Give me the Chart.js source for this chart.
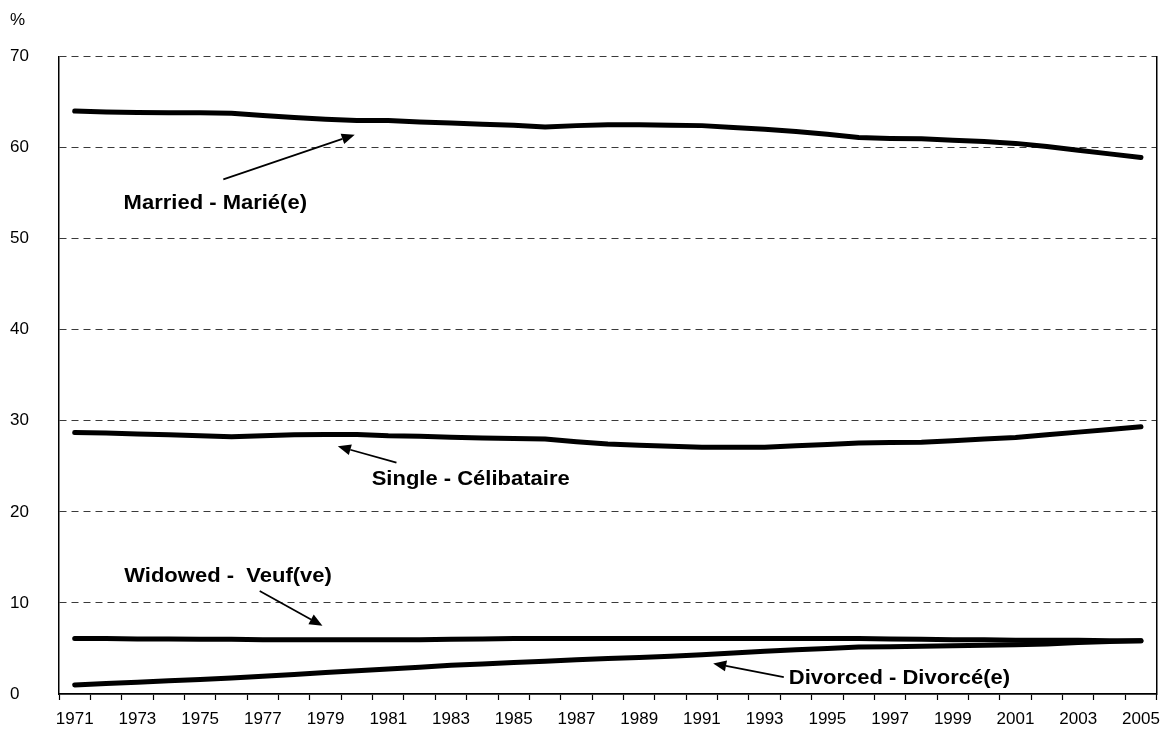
<!DOCTYPE html>
<html>
<head>
<meta charset="utf-8">
<script src="https://cdn.jsdelivr.net/npm/chart.js@4"></script>
<style>
  body { margin: 0; background: #fff; }
  canvas { display: block; }
</style>
</head>
<body>
<canvas id="chart" width="1169" height="729"></canvas>
<script>
const years = ['1971','1972','1973','1974','1975','1976','1977','1978','1979','1980',
  '1981','1982','1983','1984','1985','1986','1987','1988','1989','1990',
  '1991','1992','1993','1994','1995','1996','1997','1998','1999','2000',
  '2001','2002','2003','2004','2005'];

const married = [64.0, 63.9, 63.85, 63.8, 63.8, 63.75, 63.5, 63.3, 63.1, 62.95,
  62.95, 62.8, 62.7, 62.55, 62.45, 62.25, 62.4, 62.5, 62.5, 62.45,
  62.4, 62.2, 62.0, 61.75, 61.45, 61.1, 61.0, 60.95, 60.8, 60.65,
  60.45, 60.1, 59.7, 59.3, 58.9];

const single = [28.7, 28.65, 28.55, 28.45, 28.35, 28.25, 28.35, 28.45, 28.5, 28.5,
  28.35, 28.3, 28.2, 28.1, 28.05, 28.0, 27.7, 27.45, 27.3, 27.2,
  27.1, 27.1, 27.1, 27.25, 27.4, 27.55, 27.6, 27.65, 27.8, 28.0,
  28.15, 28.45, 28.75, 29.05, 29.35];

const widowed = [6.1, 6.1, 6.05, 6.05, 6.0, 6.0, 5.95, 5.95, 5.95, 5.95,
  5.95, 5.95, 6.0, 6.05, 6.1, 6.1, 6.1, 6.1, 6.1, 6.1,
  6.1, 6.1, 6.1, 6.1, 6.1, 6.1, 6.05, 6.0, 5.95, 5.95,
  5.9, 5.9, 5.9, 5.85, 5.85];

const divorced = [1.0, 1.15, 1.3, 1.45, 1.6, 1.75, 1.95, 2.15, 2.35, 2.55,
  2.75, 2.95, 3.15, 3.3, 3.45, 3.6, 3.75, 3.9, 4.0, 4.15,
  4.3, 4.5, 4.7, 4.85, 5.0, 5.15, 5.2, 5.25, 5.3, 5.35,
  5.4, 5.5, 5.65, 5.75, 5.85];

const seriesNames = ['Married - Marié(e)', 'Single - Célibataire', 'Widowed -  Veuf(ve)', 'Divorced - Divorcé(e)'];
const yTicks = [0, 10, 20, 30, 40, 50, 60, 70];

// label + arrow placement, in data units (category index, %)
const callouts = [
  { text: seriesNames[0], tx: 1.56, ty: 53.8, from: [4.74, 56.5], to: [8.93, 61.4] },
  { text: seriesNames[1], tx: 9.47, ty: 23.6, from: [10.26, 25.4], to: [8.39, 27.2] },
  { text: seriesNames[2], tx: 1.58, ty: 12.9, from: [5.9, 11.3], to: [7.9, 7.5] },
  { text: seriesNames[3], tx: 22.77, ty: 1.75, from: [22.61, 1.85], to: [20.36, 3.35] },
];

const calloutPlugin = {
  id: 'callouts',
  afterDatasetsDraw(chart) {
    const { ctx, scales: { x, y } } = chart;
    ctx.save();
    ctx.fillStyle = '#000';
    ctx.strokeStyle = '#000';
    callouts.forEach(c => {
      // text (slightly stretched, like the original export)
      ctx.save();
      ctx.translate(x.getPixelForValue(c.tx), y.getPixelForValue(c.ty));
      ctx.scale(1.1, 1);
      ctx.font = 'bold 20px "Liberation Sans", Arial, sans-serif';
      ctx.textBaseline = 'middle';
      ctx.fillText(c.text, 0, 0);
      ctx.restore();

      const x1 = x.getPixelForValue(c.from[0]), y1 = y.getPixelForValue(c.from[1]);
      const x2 = x.getPixelForValue(c.to[0]), y2 = y.getPixelForValue(c.to[1]);
      const ang = Math.atan2(y2 - y1, x2 - x1);
      const len = 13, half = 5.5;
      const bx = x2 - len * Math.cos(ang), by = y2 - len * Math.sin(ang);
      ctx.lineWidth = 1.7;
      ctx.beginPath();
      ctx.moveTo(x1, y1);
      ctx.lineTo(bx, by);
      ctx.stroke();
      ctx.beginPath();
      ctx.moveTo(x2, y2);
      ctx.lineTo(bx + half * Math.sin(ang), by - half * Math.cos(ang));
      ctx.lineTo(bx - half * Math.sin(ang), by + half * Math.cos(ang));
      ctx.closePath();
      ctx.fill();
    });
    ctx.restore();
  }
};

Chart.defaults.font.family = '"Liberation Sans", Arial, sans-serif';
Chart.defaults.color = '#000';

const lineStyle = {
  borderColor: '#000',
  borderWidth: 5,
  pointRadius: 0,
  tension: 0,
  borderCapStyle: 'round',
  borderJoinStyle: 'round',
};

new Chart(document.getElementById('chart').getContext('2d'), {
  type: 'line',
  data: {
    labels: years,
    datasets: [
      { label: seriesNames[0], data: married, ...lineStyle },
      { label: seriesNames[1], data: single, ...lineStyle },
      { label: seriesNames[2], data: widowed, ...lineStyle },
      { label: seriesNames[3], data: divorced, ...lineStyle },
    ],
  },
  options: {
    responsive: false,
    animation: false,
    layout: { padding: { top: 10, left: 10, right: 8, bottom: 0 } },
    plugins: {
      legend: { display: false },
      tooltip: { enabled: false },
      title: {
        display: true,
        text: '%',
        align: 'start',
        font: { size: 17, weight: 'normal' },
        color: '#000',
        padding: { top: 0, bottom: 26 },
      },
    },
    scales: {
      x: {
        offset: true,
        grid: {
          offset: true,
          drawOnChartArea: false,
          drawTicks: true,
          tickLength: 6,
          tickColor: '#000',
          tickWidth: 1.2,
        },
        border: { color: '#000', width: 1.8 },
        ticks: {
          autoSkip: false,
          maxRotation: 0,
          padding: 9,
          font: { size: 17 },
          color: '#000',
          callback: (val, idx) => (idx % 2 === 0 ? years[idx] : ''),
        },
        afterFit: s => { s.height = 35; },
      },
      y: {
        min: 0,
        max: 70,
        afterBuildTicks: s => { s.ticks = yTicks.map(v => ({ value: v })); },
        grid: {
          color: ctx => (ctx.tick && ctx.tick.value === 0 ? 'rgba(0,0,0,0)' : '#3a3a3a'),
          lineWidth: 1,
          drawTicks: false,
        },
        border: { color: '#000', width: 1.5, dash: [7, 5] },
        ticks: {
          crossAlign: 'far',
          padding: 0,
          font: { size: 17 },
          color: '#000',
        },
        afterFit: s => { s.width = 49; },
      },
      y2: {
        position: 'right',
        min: 0,
        max: 70,
        ticks: { display: false },
        grid: { drawOnChartArea: false, drawTicks: false },
        border: { color: '#000', width: 1.5 },
        afterFit: s => { s.width = 0; },
      },
    },
  },
  plugins: [calloutPlugin],
});
</script>
</body>
</html>
